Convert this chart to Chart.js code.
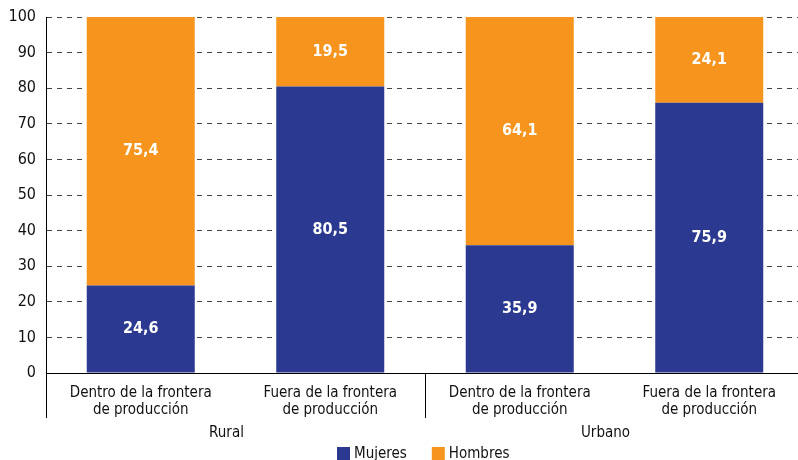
<!DOCTYPE html>
<html>
<head>
<meta charset="utf-8">
<script src="https://cdn.jsdelivr.net/npm/chart.js@4.4.1/dist/chart.umd.min.js"></script>
<style>
  html, body { margin: 0; padding: 0; background: #fff; overflow: hidden; }
  #wrap { width: 804px; height: 460px; }
</style>
</head>
<body>
<div id="wrap"><canvas id="grafico"></canvas></div>
<script>
const categorias = [
    ['Dentro de la frontera', 'de producción'],
    ['Fuera de la frontera', 'de producción'],
    ['Dentro de la frontera', 'de producción'],
    ['Fuera de la frontera', 'de producción']
];
const grupos = ['Rural', 'Urbano'];
const mujeres = [24.6, 80.5, 35.9, 75.9];
const hombres = [75.4, 19.5, 64.1, 24.1];

const fuente = "'Liberation Sans Narrow', 'DejaVu Sans Condensed', sans-serif";

// etiquetas blancas dentro de cada barra
const etiquetasBarras = {
    id: 'etiquetasBarras',
    afterDatasetsDraw(chart) {
        const ctx = chart.ctx;
        ctx.save();
        ctx.fillStyle = '#fff';
        ctx.font = 'bold 16px ' + fuente;
        ctx.textAlign = 'center';
        ctx.textBaseline = 'middle';
        chart.data.datasets.forEach((ds, i) => {
            chart.getDatasetMeta(i).data.forEach((bar, j) => {
                const p = bar.getCenterPoint();
                ctx.fillText(ds.data[j].toFixed(1).replace('.', ','), p.x, p.y);
            });
        });
        ctx.restore();
    }
};

// grupos Rural / Urbano, separadores y leyenda
const gruposEje = {
    id: 'gruposEje',
    afterDraw(chart) {
        const ctx = chart.ctx;
        const x = chart.scales.x;
        const area = chart.chartArea;
        ctx.save();
        ctx.strokeStyle = '#000';
        ctx.lineWidth = 1;
        const sep = (x.getPixelForValue(1) + x.getPixelForValue(2)) / 2;
        [area.left, sep].forEach(px => {
            ctx.beginPath();
            ctx.moveTo(Math.round(px) + 0.5, area.bottom);
            ctx.lineTo(Math.round(px) + 0.5, area.bottom + 45);
            ctx.stroke();
        });
        ctx.fillStyle = '#111';
        ctx.font = '15px ' + fuente;
        ctx.textAlign = 'center';
        ctx.textBaseline = 'middle';
        grupos.forEach((g, i) => {
            const cx = (x.getPixelForValue(i * 2) + x.getPixelForValue(i * 2 + 1)) / 2 - 9;
            ctx.fillText(g, cx, area.bottom + 60);
        });

        // leyenda
        const yLeyenda = area.bottom + 80;
        let lx = 337;
        ctx.textAlign = 'left';
        chart.data.datasets.forEach(ds => {
            ctx.fillStyle = ds.backgroundColor;
            ctx.fillRect(lx, yLeyenda - 6, 13, 13);
            ctx.fillStyle = '#111';
            ctx.fillText(ds.label, lx + 17, yLeyenda + 1);
            lx += 17 + ctx.measureText(ds.label).width + 25;
        });
        ctx.restore();
    }
};

new Chart(document.getElementById('grafico').getContext('2d'), {
    type: 'bar',
    data: {
        labels: categorias,
        datasets: [
            { label: 'Mujeres', data: mujeres, backgroundColor: '#2b3990' },
            { label: 'Hombres', data: hombres, backgroundColor: '#f7941d' }
        ]
    },
    options: {
        responsive: true,
        maintainAspectRatio: false,
        animation: false,
        barPercentage: 0.57,
        categoryPercentage: 1,
        layout: { padding: { top: 17, right: 0, bottom: 0, left: 0 } },
        plugins: {
            legend: { display: false },
            tooltip: { enabled: false }
        },
        scales: {
            x: {
                stacked: true,
                grid: { display: false },
                border: { color: '#000', width: 1 },
                ticks: { color: '#111', padding: 4, font: { size: 15, family: fuente, lineHeight: 1.1 } },
                afterFit(scale) { scale.height = 87; }
            },
            y: {
                stacked: true,
                min: 0,
                max: 100,
                ticks: { stepSize: 10, color: '#111', padding: 10, font: { size: 16, family: fuente } },
                grid: { color: '#444', drawTicks: false },
                border: { color: '#000', width: 1, dash: [5, 5] },
                afterFit(scale) {
                    scale.width = 46;
                    scale.paddingTop = 0;
                    scale.paddingBottom = 0;
                }
            }
        }
    },
    plugins: [etiquetasBarras, gruposEje]
});
</script>
</body>
</html>
